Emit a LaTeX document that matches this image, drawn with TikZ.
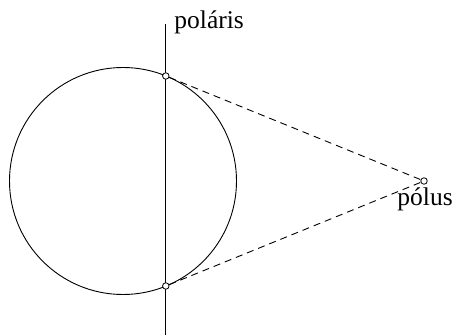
\documentclass[tikz,border=0pt]{standalone}
\usepackage{fontspec}
\setmainfont{Liberation Serif}
\begin{document}
\begin{tikzpicture}[x=1pt,y=1pt,line width=0.9pt,
  pt/.style={circle,draw,fill=white,inner sep=0pt,minimum size=6.5pt,line width=0.8pt},
  lbl/.style={inner sep=0pt,anchor=base west,font=\fontsize{25.5}{28}\selectfont},
  dsh/.style={dash pattern=on 7pt off 5pt}]
\useasboundingbox (0,0) rectangle (460,335);
\coordinate (C) at (123,154);
\draw (C) circle (113.5);
\coordinate (top) at (165.8,311);
\coordinate (bot) at (165.8,0);
\draw (top) -- (bot);
\node[pt] (A) at (165.8,259) {};
\node[pt] (B) at (165.8,49) {};
\node[pt] (P) at (424,154) {};
\draw[dsh] (A) -- (P);
\draw[dsh] (B) -- (P);
\node[lbl] (pl) at (174,306.5) {poláris};
\node[lbl] (po) at (397,130) {pólus};
\end{tikzpicture}
\end{document}
